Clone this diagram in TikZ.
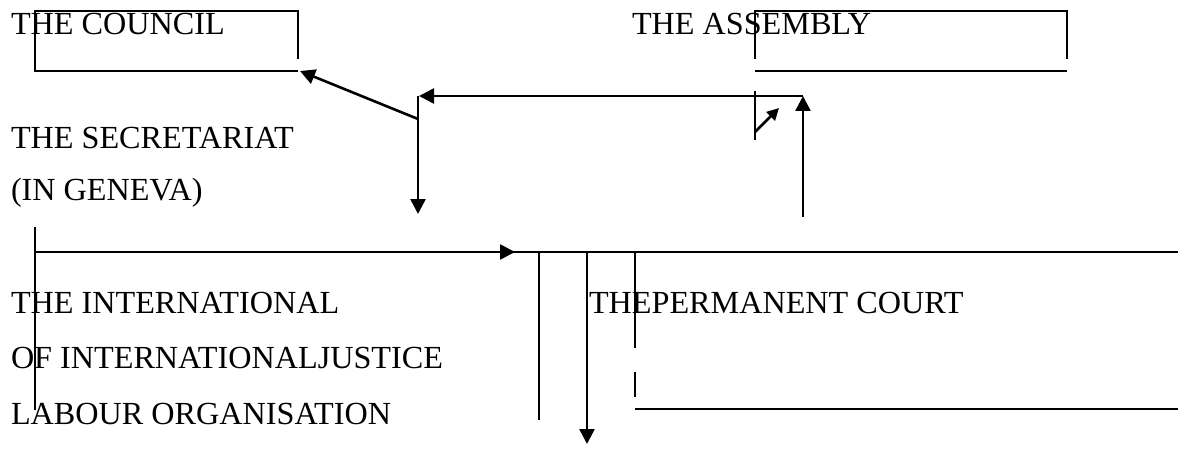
\documentclass[tikz,border=0pt]{standalone}
\usepackage{fontspec}
\setmainfont{Liberation Serif}
\usetikzlibrary{arrows.meta}
\tikzset{
  lbl/.style={anchor=base west, inner sep=0pt, outer sep=0pt, font=\fontsize{32.2}{37}\selectfont},
  boxline/.style={line width=2pt, line cap=butt},
  conn/.style={line width=2.6pt},
  arr/.style={conn, -{Triangle[length=15pt,width=15pt]}},
  smallarr/.style={conn, -{Triangle[length=12pt,width=12pt]}}
}
\begin{document}
\begin{tikzpicture}[x=1pt,y=-1pt]
\useasboundingbox (0,0) rectangle (1178,468);
% texts
\node[lbl] (council) at (11,35) {THE COUNCIL};
\node[lbl] (assembly) at (632,35) {THE ASSEMBLY};
\node[lbl] (secr) at (11,149) {THE SECRETARIAT};
\node[lbl] (geneva) at (11,200) {(IN GENEVA)};
\node[lbl] (ilo1) at (11,313) {THE INTERNATIONAL};
\node[lbl] (ilo2) at (11,368) {OF INTERNATIONALJUSTICE};
\node[lbl] (ilo3) at (11,424) {LABOUR ORGANISATION};
\node[lbl] (court) at (589,313) {THEPERMANENT COURT};
% coordinates
\coordinate (cTR) at (298,59);
\coordinate (cTRt) at (298,11);
\coordinate (cTL) at (35,11);
\coordinate (cBL) at (35,71);
\coordinate (cBR) at (298,71);
\coordinate (cTip) at (300,71);
\coordinate (aL) at (755,59);
\coordinate (aLt) at (755,11);
\coordinate (aRt) at (1067,11);
\coordinate (aR) at (1067,59);
\coordinate (aBL) at (755,71);
\coordinate (aBR) at (1067,71);
\coordinate (sJ) at (418,119);
\coordinate (sTop) at (418,96);
\coordinate (sDown) at (418,214);
\coordinate (hR) at (803,96);
\coordinate (hTip) at (419,96);
\coordinate (uBot) at (803,217);
\coordinate (tA) at (755,91);
\coordinate (tB) at (755,140);
\coordinate (dA) at (755,132);
\coordinate (dB) at (779,108);
\coordinate (lTop) at (35,227);
\coordinate (lBot) at (35,410);
\coordinate (hl) at (35,252);
\coordinate (hr) at (1178,252);
\coordinate (bA) at (418,252);
\coordinate (bB) at (515,252);
\coordinate (v1t) at (539,252);
\coordinate (v1b) at (539,420);
\coordinate (v2t) at (587,252);
\coordinate (v2b) at (587,444);
\coordinate (v3t) at (635,252);
\coordinate (v3m) at (635,348);
\coordinate (v3n) at (635,372);
\coordinate (v3b) at (635,397);
\coordinate (blL) at (635,409);
\coordinate (blR) at (1178,409);
% council box
\draw[boxline] (cTR) -- (cTRt) -- (cTL) -- (cBL) -- (cBR);
% assembly box
\draw[boxline] (aL) -- (aLt) -- (aRt) -- (aR);
\draw[boxline] (aBL) -- (aBR);
% upper connectors
\draw[arr] (sJ) -- (cTip);
\draw[arr] (sTop) -- (sDown);
\draw[arr] (hR) -- (hTip);
\draw[arr] (uBot) -- (hR);
\draw[boxline] (tA) -- (tB);
\draw[smallarr] (dA) -- (dB);
% lower part
\draw[boxline] (lTop) -- (lBot);
\draw[boxline] (hl) -- (hr);
\draw[arr] (bA) -- (bB);
\draw[boxline] (v1t) -- (v1b);
\draw[arr] (v2t) -- (v2b);
\draw[boxline] (v3t) -- (v3m);
\draw[boxline] (v3n) -- (v3b);
\draw[boxline] (blL) -- (blR);
\end{tikzpicture}
\end{document}
